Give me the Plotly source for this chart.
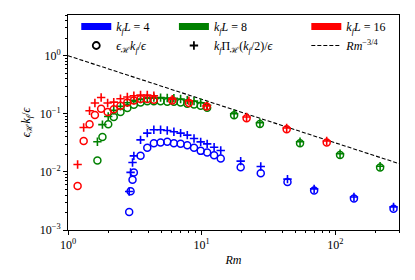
import plotly.graph_objects as go

# ---- data ----
rm_16 = [1.18, 1.31, 1.45, 1.59, 1.77, 1.98, 2.20, 2.47, 2.78, 3.11, 3.49, 3.92, 4.39,
         6.03, 8.03, 10.9, 21.7, 43.3, 86.3]
eps_16 = [0.0057, 0.034, 0.066, 0.095, 0.122, 0.107, 0.12, 0.137, 0.157, 0.17, 0.179, 0.179,
          0.174, 0.17, 0.153, 0.134, 0.084, 0.054, 0.032]
pi_16 = [0.0134, 0.058, 0.113, 0.153, 0.191, 0.153, 0.159, 0.181, 0.194, 0.204, 0.21, 0.21,
         0.204, 0.179, 0.168, 0.137, 0.088, 0.057, 0.034]

rm_8 = [1.66, 1.81, 2.0, 2.2, 2.47, 2.78, 3.11, 3.49, 3.92, 4.39, 4.93, 5.53, 6.2, 6.96,
        7.81, 8.77, 9.84, 11.0, 17.5, 27.3, 54.5, 108.6, 216.6]
eps_8 = [0.0157, 0.040, 0.066, 0.0877, 0.107, 0.126, 0.143, 0.157, 0.165, 0.165, 0.165,
         0.161, 0.161, 0.157, 0.149, 0.145, 0.137, 0.127, 0.094, 0.067, 0.031, 0.0196, 0.0119]
pi_8 = [0.033, 0.065, 0.09, 0.115, 0.135, 0.155, 0.17, 0.18, 0.187, 0.19, 0.19, 0.187,
        0.185, 0.18, 0.172, 0.165, 0.155, 0.14, 0.1, 0.07, 0.033, 0.0205, 0.0125]

rm_4 = [2.87, 2.94, 3.04, 3.11, 3.49, 3.92, 4.39, 4.93, 5.53, 6.2, 6.96, 7.81, 8.77, 9.84,
        11.0, 12.4, 13.9, 19.6, 27.7, 43.9, 69.5, 138, 273]
eps_4 = [0.00204, 0.00465, 0.0073, 0.0098, 0.019, 0.026, 0.031, 0.032, 0.0329, 0.031,
         0.0304, 0.0288, 0.026, 0.023, 0.0215, 0.0194, 0.017, 0.012, 0.0095, 0.0067,
         0.0048, 0.0035, 0.00233]
pi_4 = [0.0046, 0.0098, 0.0145, 0.0189, 0.0356, 0.0465, 0.053, 0.053, 0.0516, 0.049,
        0.0465, 0.043, 0.0376, 0.0329, 0.0304, 0.0266, 0.0233, 0.0153, 0.0124, 0.0075,
        0.0051, 0.0037, 0.0025]

law_rm = [1.0, 300.0]
law_val = [1.0, 0.01388]  # Rm^-3/4

x_tickvals = [1, 10, 100]
x_ticktext = ["10<sup>0</sup>", "10<sup>1</sup>", "10<sup>2</sup>"]
y_tickvals = [0.001, 0.01, 0.1, 1]
y_ticktext = ["10<sup>−3</sup>", "10<sup>−2</sup>", "10<sup>−1</sup>", "10<sup>0</sup>"]

series = [
    ("<i>k</i><sub><i>f</i></sub><i>L</i> = 4", "#0000ff", rm_4, eps_4, pi_4, "legend"),
    ("<i>k</i><sub><i>f</i></sub><i>L</i> = 8", "#008000", rm_8, eps_8, pi_8, "legend2"),
    ("<i>k</i><sub><i>f</i></sub><i>L</i> = 16", "#ff0000", rm_16, eps_16, pi_16, "legend3"),
]

FONT = "Liberation Serif"
FS = 12
fig = go.Figure()

# dashed law line
fig.add_trace(go.Scatter(x=law_rm, y=law_val, mode="lines",
                         line=dict(color="black", width=1.1, dash="4px,2px"),
                         showlegend=False, hoverinfo="skip"))

for name, col, xs, e, p, lg in series:
    fig.add_trace(go.Scatter(x=xs, y=e, mode="markers", showlegend=False,
                             marker=dict(symbol="circle-open", size=7, color=col,
                                         line=dict(width=1.5, color=col))))
    fig.add_trace(go.Scatter(x=xs, y=p, mode="markers", showlegend=False,
                             marker=dict(symbol="cross-thin-open", size=6, color=col,
                                         line=dict(width=1.6, color=col))))

# legend entries
for name, col, xs, e, p, lg in series:
    fig.add_trace(go.Scatter(x=[None], y=[None], mode="lines", name=name,
                             line=dict(color=col, width=7), legend=lg))
fig.add_trace(go.Scatter(x=[None], y=[None], mode="markers", legend="legend",
                         name="<i>ϵ</i><sub>ℋ</sub><i>k</i><sub><i>f</i></sub>/<i>ϵ</i>",
                         marker=dict(symbol="circle-open", size=7, color="black",
                                     line=dict(width=1.8, color="black"))))
fig.add_trace(go.Scatter(x=[None], y=[None], mode="markers", legend="legend2",
                         name="<i>k</i><sub><i>f</i></sub>Π<sub>ℋ</sub>(<i>k</i><sub><i>f</i></sub>/2)/<i>ϵ</i>",
                         marker=dict(symbol="cross-thin-open", size=6, color="black",
                                     line=dict(width=1.8, color="black"))))
fig.add_trace(go.Scatter(x=[None], y=[None], mode="lines", legend="legend3",
                         name="<i>Rm</i><sup>−3/4</sup>",
                         line=dict(color="black", width=1.1, dash="4px,2px")))

leg_common = dict(yref="container", yanchor="top", y=1 - 12 / 280, xanchor="left",
                  bgcolor="rgba(0,0,0,0)",
                  borderwidth=0, font=dict(family=FONT, size=FS, color="black"),
                  itemwidth=30, tracegroupgap=0, traceorder="normal")

axis_common = dict(type="log", showgrid=False, zeroline=False, showline=True,
                   linecolor="black", linewidth=1, mirror=True, ticks="outside",
                   ticklen=4, tickwidth=1, tickcolor="black", automargin=False,
                   tickfont=dict(family=FONT, size=FS, color="black"),
                   minor=dict(ticks="outside", ticklen=2, tickwidth=0.8,
                              tickcolor="black", dtick="D1", showgrid=False))

fig.update_layout(
    width=415, height=280,
    margin=dict(l=68, r=16, t=15, b=50, autoexpand=False),
    paper_bgcolor="white", plot_bgcolor="white",
    font=dict(family=FONT, size=FS, color="black"),
    xaxis=dict(range=[0, 2.477], tickvals=x_tickvals, ticktext=x_ticktext,
               title=dict(text="<i>Rm</i>", font=dict(family=FONT, size=FS), standoff=4),
               **axis_common),
    yaxis=dict(range=[-3, 0.7], tickvals=y_tickvals, ticktext=y_ticktext,
               title=dict(text="<i>ϵ</i><sub>ℋ</sub><i>k</i><sub><i>f</i></sub>/<i>ϵ</i>",
                          font=dict(family=FONT, size=FS), standoff=6),
               **axis_common),
    legend=dict(x=0.025, **leg_common),
    legend2=dict(x=0.32, **leg_common),
    legend3=dict(x=0.72, **leg_common),
)

fig.write_html("out.html", config={"displayModeBar": False},
               post_script="document.body.style.margin='0px';")
